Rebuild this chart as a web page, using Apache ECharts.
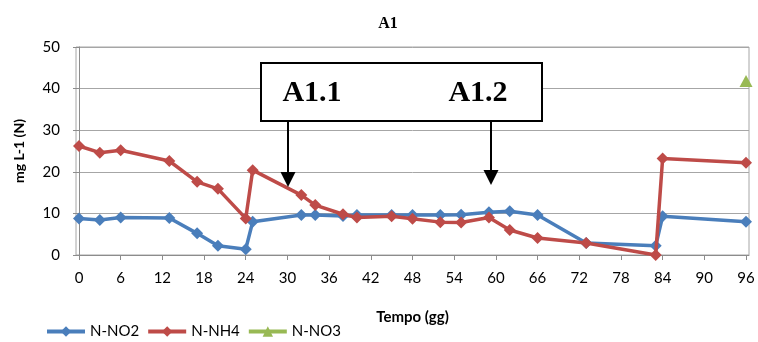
<!DOCTYPE html>
<html>
<head>
<meta charset="utf-8">
<script src="https://cdn.jsdelivr.net/npm/echarts@6/dist/echarts.min.js"></script>
<style>
html,body{margin:0;padding:0;background:#fff;}
#c{width:758px;height:342px;}
</style>
</head>
<body>
<div id="c"></div>
<script>
// Data (days, mg L-1 N)
var daysNO2 = [0, 3, 6, 13, 17, 20, 24, 25, 32, 34, 38, 40, 45, 48, 52, 55, 59, 62, 66, 73, 83, 84, 96];
var valNO2  = [8.8, 8.4, 9.0, 8.9, 5.2, 2.2, 1.4, 8.0, 9.6, 9.6, 9.4, 9.6, 9.6, 9.6, 9.6, 9.7, 10.3, 10.5, 9.6, 2.9, 2.2, 9.3, 8.0];
var daysNH4 = [0, 3, 6, 13, 17, 20, 24, 25, 32, 34, 38, 40, 45, 48, 52, 55, 59, 62, 66, 73, 83, 84, 96];
var valNH4  = [26.2, 24.6, 25.2, 22.6, 17.6, 15.9, 8.8, 20.4, 14.4, 12.0, 9.8, 9.0, 9.3, 8.7, 7.9, 7.8, 9.0, 6.0, 4.1, 2.9, 0.0, 23.2, 22.2];
var daysNO3 = [96];
var valNO3  = [41.8];
var xTicks = [0, 6, 12, 18, 24, 30, 36, 42, 48, 54, 60, 66, 72, 78, 84, 90, 96];

function pairs(xs, ys){ return xs.map(function(x,i){ return [x, ys[i]]; }); }

var chart = echarts.init(document.getElementById('c'), null, {renderer:'canvas'});
var font = 'Lato, "Liberation Sans", sans-serif';
var axisGray = '#8c8c8c';
var arrowLen = 15, arrowW = 15;

chart.setOption({
  animation: false,
  backgroundColor: '#fff',
  title: {
    text: 'A1', left: 383, textAlign: 'center', top: 11,
    textStyle: {fontFamily: '"Liberation Serif", serif', fontWeight: 'bold', fontSize: 16, color: '#000'}
  },
  legend: {
    left: 45, top: 324, padding: 0, itemWidth: 38, itemHeight: 13, itemGap: 7,
    lineStyle: {width: 4},
    textStyle: {fontFamily: font, fontSize: 15, color: '#000'},
    data: ['N-NO2', 'N-NH4', 'N-NO3']
  },
  grid: {
    left: 76, right: 9, top: 47, bottom: 87,
    show: true, borderColor: '#a6a6a6', borderWidth: 1, backgroundColor: 'transparent'
  },
  xAxis: {
    type: 'value', min: -0.43, max: 96.43,
    name: 'Tempo (gg)', nameLocation: 'middle', nameGap: 55,
    nameTextStyle: {fontFamily: font, fontWeight: 'bold', fontSize: 15, color: '#000'},
    axisLine: {show: true, lineStyle: {color: axisGray, width: 1}},
    axisTick: {show: true, length: 5, customValues: xTicks, lineStyle: {color: axisGray}},
    axisLabel: {customValues: xTicks, margin: 16, fontFamily: font, fontSize: 15, color: '#000'},
    splitLine: {show: false}
  },
  yAxis: {
    type: 'value', min: 0, max: 50, interval: 10,
    name: 'mg L-1 (N)', nameLocation: 'middle', nameGap: 50, nameRotate: 90,
    nameTextStyle: {fontFamily: font, fontWeight: 'bold', fontSize: 14, color: '#000'},
    axisLine: {show: true, lineStyle: {color: axisGray, width: 1}},
    axisTick: {show: true, length: 6, lineStyle: {color: axisGray}},
    axisLabel: {margin: 16, fontFamily: font, fontSize: 15, color: '#000'},
    splitLine: {show: true, lineStyle: {color: '#a6a6a6', width: 1}}
  },
  series: [
    {
      name: 'N-NO2', type: 'line', data: pairs(daysNO2, valNO2), clip: false,
      symbol: 'diamond', symbolSize: [12, 12], showAllSymbol: true,
      lineStyle: {color: '#4a7ebb', width: 3.5},
      itemStyle: {color: '#4a7ebb'}, z: 2
    },
    {
      name: 'N-NH4', type: 'line', data: pairs(daysNH4, valNH4), clip: false,
      symbol: 'diamond', symbolSize: [12, 12], showAllSymbol: true,
      lineStyle: {color: '#be4b48', width: 3.5},
      itemStyle: {color: '#be4b48'}, z: 3
    },
    {
      name: 'N-NO3', type: 'line', data: pairs(daysNO3, valNO3), clip: false,
      symbol: 'triangle', symbolSize: [13, 12], showAllSymbol: true,
      lineStyle: {color: '#98b954', width: 3.5},
      itemStyle: {color: '#98b954'}, z: 4
    }
  ],
  graphic: [
    {type: 'rect', shape: {x: 261, y: 63, width: 281, height: 58}, style: {fill: '#fff', stroke: '#000', lineWidth: 2}, z: 100},
    {type: 'text', x: 312, y: 93, style: {text: 'A1.1', fill: '#000', font: 'bold 30px "Liberation Serif", serif', align: 'center', verticalAlign: 'middle'}, z: 101},
    {type: 'text', x: 478, y: 93, style: {text: 'A1.2', fill: '#000', font: 'bold 30px "Liberation Serif", serif', align: 'center', verticalAlign: 'middle'}, z: 101},
    {type: 'line', shape: {x1: 288, y1: 121, x2: 288, y2: 187 - arrowLen}, style: {stroke: '#000', lineWidth: 2}, z: 100},
    {type: 'polygon', shape: {points: [[288 - arrowW/2, 187 - arrowLen], [288 + arrowW/2, 187 - arrowLen], [288, 187]]}, style: {fill: '#000'}, z: 100},
    {type: 'line', shape: {x1: 491, y1: 121, x2: 491, y2: 185 - arrowLen}, style: {stroke: '#000', lineWidth: 2}, z: 100},
    {type: 'polygon', shape: {points: [[491 - arrowW/2, 185 - arrowLen], [491 + arrowW/2, 185 - arrowLen], [491, 185]]}, style: {fill: '#000'}, z: 100}
  ]
});
</script>
</body>
</html>
